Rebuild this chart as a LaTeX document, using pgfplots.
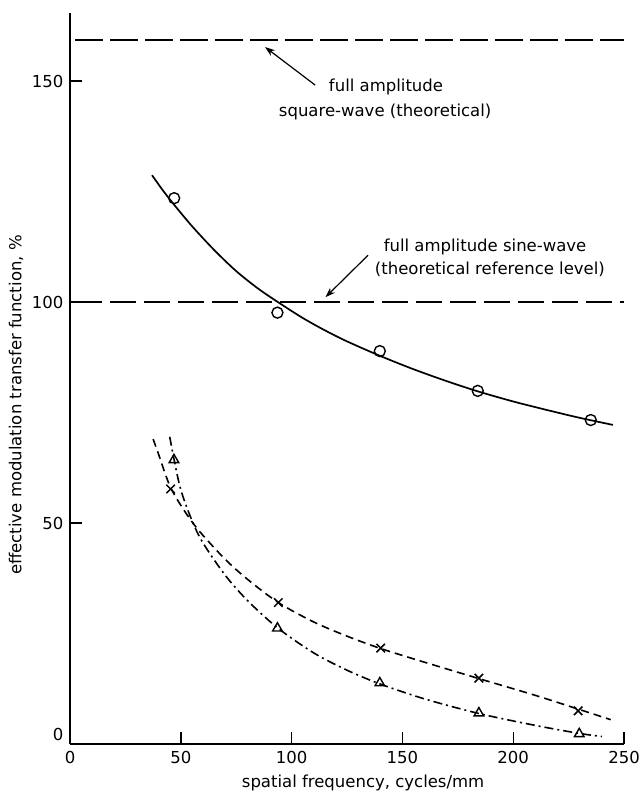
\documentclass[border=0pt]{standalone}
\usepackage{fontspec}
\setmainfont{DejaVu Sans}
\usepackage{pgfplots}
\pgfplotsset{compat=1.18}
\usetikzlibrary{arrows.meta}
\begin{document}
\fontsize{16.5pt}{19pt}\selectfont
\begin{tikzpicture}
\begin{axis}[
  scale only axis, width=554pt, height=731pt,
  xmin=0, xmax=250, ymin=0, ymax=165.4,
  axis x line*=bottom, axis y line*=left,
  axis line style={line width=1.6pt},
  xtick={0,50,100,150,200,250},
  ytick={50,100,150},
  extra y ticks={0},
  extra y tick style={tick style={draw=none}, yticklabel style={yshift=10pt}},
  tick align=inside, major tick length=12pt,
  tick style={line width=1.4pt, black},
  /pgf/number format/assume math mode=true,
  ticklabel style={font=\fontsize{16.5pt}{19pt}\selectfont},
  xticklabel style={yshift=-2pt},
  yticklabel style={xshift=-1pt},
  xlabel={spatial frequency, cycles/mm},
  ylabel={effective modulation transfer function, \%},
  xlabel style={at={(axis description cs:0.529,-0.0534)}, anchor=center},
  ylabel style={at={(axis description cs:-0.0975,0.4637)}, anchor=center},
  label style={font=\fontsize{16.5pt}{19pt}\selectfont},
  clip=false,
]
% reference levels
\addplot[black, line width=2.2pt, dash pattern=on 28pt off 7pt] coordinates {(2.3,159.3) (250,159.3)};
\addplot[black, line width=1.8pt, dash pattern=on 26pt off 8pt] coordinates {(2.6,100) (250,100)};
% solid curve
\addplot[black, line width=1.7pt, smooth] coordinates {
(37,128.7) (42,125.2) (47,122.0) (55,117.2) (65,111.8) (75,107.0) (85,103.0) (95,99.6) (105,96.4) (115,93.6) (125,91.1) (140,87.8) (155,84.8) (170,82.1) (184,79.8) (200,77.5) (215,75.6) (230,73.8) (245,72.2)};
\addplot[black, only marks, mark=o, mark size=5.5pt, mark options={line width=1.4pt}] coordinates {
(47,123.5) (93.6,97.6) (139.8,88.9) (184,79.9) (235,73.3)};
% crosses curve
\addplot[black, line width=1.6pt, smooth, dash pattern=on 8pt off 5pt] coordinates {
(37.5,69) (40,65.5) (42.5,61.8) (45.4,58) (50,54) (55,50.3) (60,47.2) (70,41.8) (80,37.3) (94,32) (110,27.6) (125,24.4) (140.2,21.6) (160,18.5) (184.5,14.8) (210,11) (229.3,7.9) (244,5.5)};
\addplot[black, only marks, mark=x, mark size=6pt, mark options={line width=1.5pt}] coordinates {
(45.4,57.7) (94,32) (140.2,21.7) (184.5,14.9) (229.3,7.5)};
% triangles curve
\addplot[black, line width=1.6pt, smooth, dash pattern=on 9pt off 4pt on 2pt off 4pt] coordinates {
(45,69.5) (46.9,64.5) (50,57.5) (55,50.6) (60,45.5) (70,38.2) (80,32.5) (93.6,26.3) (110,20.6) (125,16.7) (139.8,13.6) (160,10.2) (184.5,6.9) (210,4.2) (229.8,2.4) (240,1.7)};
\addplot[black, only marks, mark=triangle, mark size=5.5pt, mark options={line width=1.4pt, solid}] coordinates {
(46.9,64.3) (93.6,26.2) (139.8,13.8) (184.5,7) (229.8,2.3)};
% annotations
\node at (axis cs:142.6,148.6) {full amplitude};
\node at (axis cs:142.2,143.0) {square-wave (theoretical)};
\draw[-{Stealth[length=10pt,width=7pt]}, line width=1.2pt] (axis cs:110.6,149.1) -- (axis cs:88,157.7);
\node at (axis cs:187.3,112.4) {full amplitude sine-wave};
\node at (axis cs:189.5,107.3) {(theoretical reference level)};
\draw[-{Stealth[length=10pt,width=7pt]}, line width=1.2pt] (axis cs:134.5,110.6) -- (axis cs:115.3,101.1);
\coordinate (bl) at (rel axis cs:-0.1264,-0.0684);
\coordinate (tr) at (rel axis cs:1.0325,1.0178);
\end{axis}
\pgfresetboundingbox
\useasboundingbox (bl) rectangle (tr);
\end{tikzpicture}
\end{document}
